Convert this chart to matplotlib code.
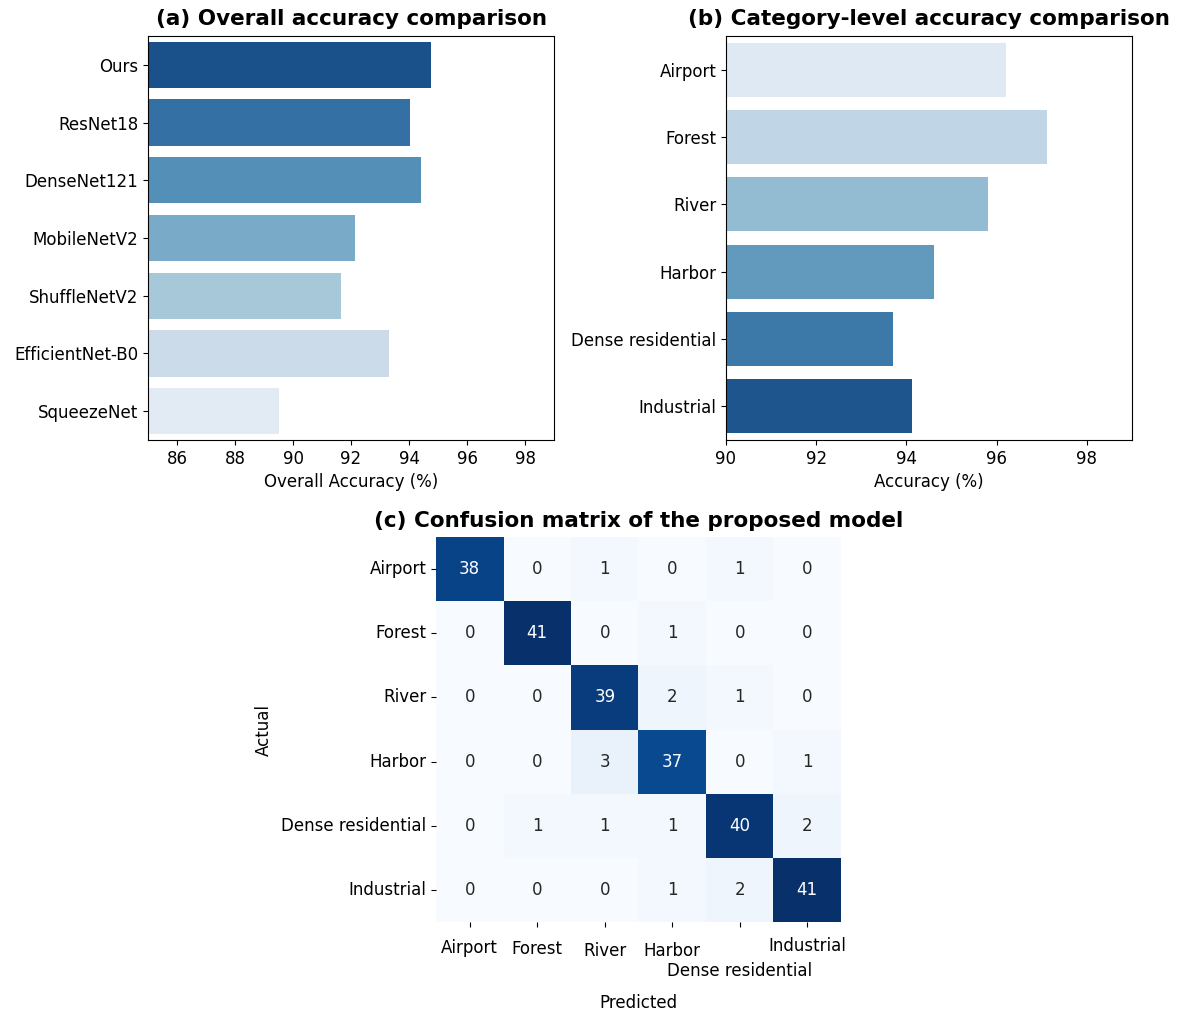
import matplotlib
matplotlib.use("Agg")
import matplotlib.pyplot as plt
import matplotlib.transforms as mtransforms
import seaborn as sns
import numpy as np

# (a) overall accuracy
models = ["Ours", "ResNet18", "DenseNet121", "MobileNetV2", "ShuffleNetV2", "EfficientNet-B0", "SqueezeNet"]
overall_acc = [94.75, 94.05, 94.42, 92.13, 91.66, 93.32, 89.51]

# (b) per-category accuracy
categories = ["Airport", "Forest", "River", "Harbor", "Dense residential", "Industrial"]
category_acc = [96.21, 97.12, 95.81, 94.60, 93.71, 94.12]

# (c) confusion matrix (rows = actual, cols = predicted)
conf_matrix = np.array([
    [38, 0, 1, 0, 1, 0],
    [0, 41, 0, 1, 0, 0],
    [0, 0, 39, 2, 1, 0],
    [0, 0, 3, 37, 0, 1],
    [0, 1, 1, 1, 40, 2],
    [0, 0, 0, 1, 2, 41],
])

W, H = 1180, 1010
TITLE_FS = 15.5
FS = 12
fig = plt.figure(figsize=(W / 100, H / 100), dpi=100)


def px_axes(left, top, right, bottom):
    return fig.add_axes([left / W, 1 - bottom / H, (right - left) / W, (bottom - top) / H])


ax1 = px_axes(148, 36, 554, 440)
ax2 = px_axes(726, 36, 1132, 440)
ax3 = px_axes(436, 537, 841, 922)

sns.barplot(x=overall_acc, y=models, hue=models, palette="Blues_r", legend=False, ax=ax1)
ax1.set_xlim(85, 99)
ax1.set_xlabel("Overall Accuracy (%)", fontsize=FS)
ax1.set_ylabel("")
ax1.set_title("(a) Overall accuracy comparison", fontsize=TITLE_FS, fontweight="bold", pad=8)
ax1.tick_params(labelsize=FS)

sns.barplot(x=category_acc, y=categories, hue=categories, palette="Blues", legend=False, ax=ax2)
ax2.set_xlim(90, 99)
ax2.set_xlabel("Accuracy (%)", fontsize=FS)
ax2.set_ylabel("")
ax2.set_title("(b) Category-level accuracy comparison", fontsize=TITLE_FS, fontweight="bold", pad=8)
ax2.tick_params(labelsize=FS)

sns.heatmap(conf_matrix, annot=True, fmt="d", cmap="Blues", cbar=False,
            xticklabels=categories, yticklabels=categories, ax=ax3,
            annot_kws={"fontsize": FS})
ax3.set_xlabel("Predicted", fontsize=FS, labelpad=10)
ax3.set_ylabel("Actual", fontsize=FS, labelpad=6)
ax3.set_title("(c) Confusion matrix of the proposed model", fontsize=TITLE_FS, fontweight="bold", pad=7)
ax3.tick_params(labelsize=FS)
ax3.tick_params(axis="x", pad=9)
plt.setp(ax3.get_yticklabels(), rotation=0)

# x labels in the reference sit at slightly staggered heights (px)
x_shift = [0, -1, -3, -3, -23, 2]
for lab, dy in zip(ax3.get_xticklabels(), x_shift):
    lab.set_rotation(0)
    lab.set_transform(lab.get_transform() + mtransforms.ScaledTranslation(0, dy / 100, fig.dpi_scale_trans))

fig.savefig("out.png", dpi=100)
